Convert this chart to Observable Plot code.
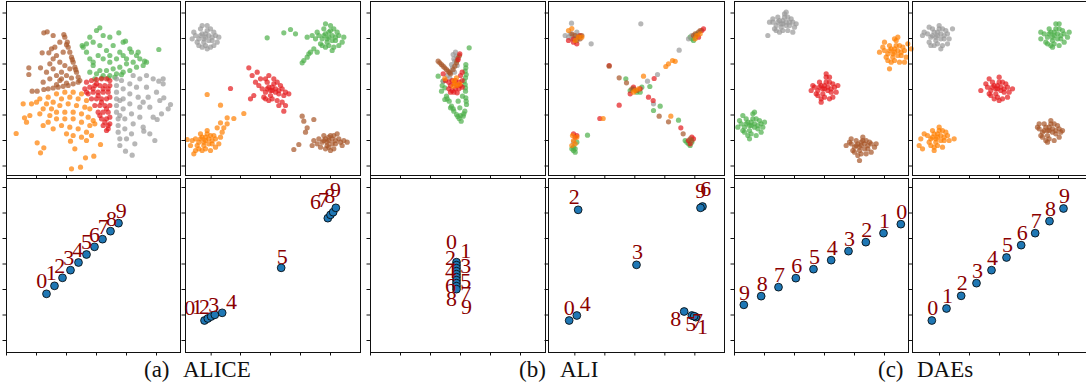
<!DOCTYPE html>
<html><head><meta charset="utf-8">
<script src="https://cdn.jsdelivr.net/npm/d3@7"></script>
<script src="https://cdn.jsdelivr.net/npm/@observablehq/plot@0.6"></script>
<style>
body{margin:0;background:#fff;}
#fig{position:relative;width:1086px;height:385px;overflow:hidden;background:#fff;}
#fig svg{position:absolute;overflow:visible;background:transparent;}
.cap{position:absolute;font-family:'Liberation Serif','Times New Roman','Nimbus Roman','DejaVu Serif',serif;font-size:23px;line-height:23px;white-space:nowrap;color:#111;}
</style></head><body><div id="fig"></div>
<script>
// ---------- classes ----------
const classNames = ["orange","green","red","brown","gray"];
const classColors = ["#ff7f00","#4daf4a","#e41a1c","#a65628","#999999"];
const digits = [0,1,2,3,4,5,6,7,8,9];

// ---------- (a) ALICE, left: latent clouds ----------
const alice1Brown = [35,83, 36.5,80, 37,77, 38,74, 39,71, 40,68, 41,65, 42,62, 43,59, 44,57, 36,78.5, 39.5,69.5, 41.5,63.5, 25,52, 28,52.5, 31,53, 34,53.5, 37,54, 40,55, 43,56, 30,54.5, 36,55.5, 30,60, 33,62, 35,66, 28,64, 32,68, 26,58, 36,60, 30,72, 34,74, 24,62, 28,70, 22,56, 38,64, 32,57, 27,76, 32,80, 22.4,85.6, 24.4,86.2, 28,84, 34.4,84.6, 21.4,73.6, 25.4,73.6, 20.4,64.6, 13.4,64.6, 13.4,60.6, 15.4,50.6, 18.4,50.6, 22.4,51.6, 29,77, 33,58, 39,58.5, 26,67];
const alice1Green = [46,77, 48,74, 50,70, 52,66, 50,62, 54,61, 58,60, 62,60, 66,61, 70,62, 74,63, 78,65, 82,66, 56,63, 60,63, 64,64, 68,65, 72,67, 76,68, 52,68, 55,72, 58,70, 62,68, 66,70, 70,72, 60,75, 64,78, 68,74, 56,78, 52,80, 58,84, 62,83, 70,80, 74,76, 78,72, 80,70, 84,68, 54,87, 56,88.6, 67.4,85.6, 71.4,80.6, 79,74, 72,70, 48,79, 50,83, 75,74, 62,72, 91.4,75.6, 82.8,68.6, 45.4,78, 53,58, 57,58.5, 61,58.5, 65,59, 69,60.5];
const alice1Red = [48,56, 51,57, 54,57.5, 57,58, 60,58, 62,57, 47,52, 50,53, 53,54, 56,54, 59,54, 62,54, 49,49, 52,50, 55,50, 58,50, 61,50, 51,46, 54,46, 57,46, 60,46, 62,47, 53,42, 56,42, 59,42, 62,42, 55,38, 58,38, 61,38, 57,34, 60,34, 62,35, 58,30, 61,30, 60,27, 61,28, 55,48, 58,52, 52,52, 48,50, 60,40, 57,44, 62,31, 54,55, 61,52, 56,36, 59,32];
const alice1Gray = [66,58, 66,54, 66,50, 66,46, 66,42, 66,38, 67,34, 67,30, 67,26, 68,22, 68,18, 69,57, 70,52, 70,46, 70,40, 71,34, 71,28, 72,22, 74,55, 74,49, 74,43, 75,37, 76,31, 75,25, 78,53, 79,47, 80,41, 80,35, 82,29, 84,53, 85,47, 86,41, 88,35, 86,25, 90,50, 92,45, 94,55, 93,37, 97,40, 98.4,42.6, 88,58, 80,58, 94,58, 89,21, 75.4,12.2, 71.4,14.6, 77,19, 82,44, 76,60, 84,60, 91.4,56.6, 94.4,46.6, 90.4,33.6, 82.4,26.6, 68,45, 68,36];
const alice1Orange = [20,46, 25,47, 30,49, 35,50, 40,50, 45,49, 18,44, 24,43, 28,44, 33,46, 38,47, 43,46, 48,45, 15,43, 22,40, 27,40, 32,42, 37,43, 42,42, 47,41, 50,40, 20,37, 26,36, 30,38, 35,38, 40,38, 45,37, 49,35, 52,33, 25,32, 30,34, 35,34, 40,34, 45,32, 50,30, 33,30, 38,29, 43,28, 48,26, 28,28, 22,30, 53,31, 45,23, 40,24, 36,25, 51,24, 12,32, 14,36, 5.8,25.2, 18.4,19.6, 20.4,13.6, 22.4,16.6, 41,16, 47.4,10.6, 48,21, 56.4,18.6, 52.4,11.6, 39,4, 44.4,5, 10,43, 10.8,34.6, 38.4,20.6];

// ---------- (a) ALICE, right ----------
const alice2Gray = [12,83, 10,85, 14,84, 8,82, 16,81, 11,80, 13,87, 9,88, 15,88, 6,84, 18,84, 12,78, 10,77, 15,77, 7,80, 17,86, 13,90, 5,86, 19,80, 11,82, 14,81, 9,84, 16,83, 12,85, 8,78, 20,83, 4,82, 10,90, 17,78, 13,76];
const alice2Green = [86,83, 84,85, 88,84, 82,82, 90,81, 85,80, 87,87, 83,88, 89,88, 80,84, 92,84, 86,78, 84,77, 89,77, 81,79, 91,86, 87,90, 79,86, 94,80, 85,82, 88,81, 83,84, 90,83, 86,86, 82,78, 95,83, 78,82, 84,91, 92,78, 88,75, 77,76, 75,74, 73,71, 71,69, 70,67.6, 74,73, 79,74, 73,83, 66,85, 63,87.6, 59,85.6, 49,82.6, 76,84];
const alice2Red = [52,51, 50,53, 54,52, 48,50, 56,49, 51,48, 53,55, 49,56, 55,56, 46,52, 58,52, 52,46, 50,45, 55,45, 47,47, 57,54, 53,58, 44,54, 59,48, 51,51, 54,50, 49,52, 56,51, 52,53, 48,46, 60,50, 42,56, 40,60, 38,64.6, 43,62, 45,58, 58,44, 60,42, 59,38.6, 56,42, 62,49, 27,52.2, 39,46, 41,48, 50,60, 48,58];
const alice2Orange = [12,21, 10,23, 14,22, 8,20, 16,19, 11,18, 13,25, 9,25, 15,24, 6,22, 18,22, 12,16, 10,15, 15,15, 7,18, 17,24, 13,27, 4,21, 20,19, 11,20, 14,19, 9,22, 16,21, 12,23, 8,16, 21,23, 3,18, 5,13, 1,21.6, 22,26, 19,28.6, 23,28.6, 25,31, 21,31.6, 25,34.6, 29,34.2, 21,42.2, 13,48.6, 35,37.2, 18,17, 6,15];
const alice2Brown = [86,21, 84,22, 88,22, 82,20, 90,19, 85,18, 87,24, 83,24, 89,24, 80,22, 92,22, 86,17, 84,16, 89,16, 79,19, 93,20, 95,21, 77,21, 91,25, 97,20, 85,20, 88,19, 83,21, 90,21, 86,23, 81,17, 94,18, 76,18, 87,15, 70,35.6, 71,32.6, 77,33.6, 73,28.6, 68,18.6, 65,15.6, 72,26];

// ---------- (b) ALI, left ----------
const ali1Green = [44.6,52.6, 45.6,47.6, 47.2,44.6, 48.6,41.6, 50,38.6, 51.6,36.6, 53.2,34.2, 54.4,32.6, 57.2,66.6, 56.8,62.6, 57,58.6, 56.8,54.6, 57,50.6, 57.2,46.6, 57.6,42.6, 56.6,38.6, 55.6,35.6, 43.6,56.6, 42.6,50.6, 44.6,45.6, 52.6,44.6, 53.6,40.6, 59.2,76.6, 40.6,59.6, 55.2,47.6, 48,40.6, 57.4,60.6, 57,52.6, 57.4,44.6, 54,36, 46,46, 49.6,40, 52.4,35.4, 56,37, 43,54, 57.2,64.6, 56.2,56.6];
const ali1Red = [47,52, 49,51, 51,52, 53,52, 48,54, 50,55, 52,54, 54,54, 47,56, 49,57, 51,57, 53,56, 55,57, 50,50, 52,49.6, 48,50, 53.6,73, 52.6,69.6, 43.6,61, 54,60, 55,62, 45,57, 55,53];
const ali1Orange = [50.6,55.6, 49.6,53.6, 51.6,58.6, 44.6,58.2, 52,54, 53.6,55, 50,57];
const ali1Brown = [40.6,68.6, 42.6,66.6, 44.6,64.6, 46.6,62.6, 48,61, 49.6,63.6, 51.6,67.6, 52.6,70.6, 41.6,67.6, 43.6,65.6, 45.6,63.6, 47.4,61.8, 50.6,65.6, 52,69, 53.4,72];
const ali1Gray = [49.6,72.6, 50.6,68.6, 49.2,64.6, 47.6,58.6, 43.6,56.6, 51.6,71.6, 48.6,66.6, 50,70, 51,74, 48,62, 46,60, 52,66, 50.4,62];

// ---------- (b) ALI, right ----------
const ali2Gray = [13,85, 15,84, 17,86, 12,83, 14,82, 18,84, 13.8,91.4, 25.6,79, 10,84, 16,82, 55.4,91, 59.4,56.6, 65.4,60.6, 78.4,75.2, 63,43, 86,84, 84,82, 15,20];
const ali2Brown = [16,84, 18,83, 14,85, 19,82, 17,81, 20,84, 88,85, 90,86, 87,84, 91,87, 42.4,58.6, 46.8,55.6, 50,52, 53,51, 66.4,35.6, 72,32.2, 80.8,25, 85,22, 86,21, 36.4,65.6];
const ali2Orange = [14,88.2, 12,87, 18,83, 16,81, 20,83, 89,84, 91,85, 88,82, 57,59.6, 70.4,65.4, 72,67, 74.4,69, 76,68.5, 52,51, 54,52, 51,50, 73.4,35.6, 32.8,34.2, 14.4,24, 15,21, 16,19, 17,23, 14,18];
const ali2Red = [15,80, 17,79, 19,84, 12,81, 92,87, 93,88, 90,83, 36.4,66, 63.4,58.2, 60,47, 62.8,45, 79.4,28.6, 42.4,42.2, 30.8,34.2, 49,49, 55,52, 51,53, 16,23, 17,24, 15,25, 84,21, 87,22, 85,19, 86,23, 15,82];
const ali2Green = [86,82, 87,81, 85,83, 88,83, 89,85, 51,52, 53,50, 55,50, 49,51, 56,53, 46.4,58, 60.8,53.4, 63,39, 67,41.6, 78,33.2, 23.4,24.2, 15,17, 16,16, 14,16, 17,20, 15,15, 83,20, 84,19, 82,21, 86,20, 85,18, 16,14];

// ---------- (c) DAEs, left ----------
const dae1Gray = [29,91, 27,93, 31,92, 25,90, 33,90, 28,89, 30,95, 26,95, 32,95, 23,92, 35,92, 29,87, 27,86, 32,87, 24,88, 34,94, 30,97, 21,92, 36,89, 28,91, 31,90, 26,92, 33,92, 29,93, 25,87, 37,91, 20,84, 31,98, 35,86, 23,94];
const dae1Orange = [96,74, 94,76, 98,75, 92,73, 100,72, 95,71, 97,78, 93,78, 99,78, 90,75, 102,75, 96,69, 94,68, 99,68, 91,71, 101,77, 97,81, 89,77, 103,71, 95,73, 98,72, 93,75, 100,74, 96,76, 92,69, 104,79, 87,74, 98,83, 102,68, 93,64, 96,82, 106,76, 90,80];
const dae1Red = [54,52, 52,54, 56,53, 50,51, 58,50, 53,49, 55,56, 51,56, 57,56, 48,53, 60,53, 54,47, 52,46, 57,46, 49,49, 59,55, 55,59, 47,54, 61,50, 53,52, 56,51, 51,53, 58,52, 54,54, 50,48, 62,54, 46,51, 55,61, 59,47, 52,44, 57,59];
const dae1Green = [10,30, 8,32, 12,31, 6,29, 14,28, 9,27, 11,34, 7,34, 13,34, 4,31, 16,31, 10,25, 8,24, 13,24, 5,27, 15,33, 11,37, 3,33, 17,29, 9,30, 12,29, 7,31, 14,30, 10,32, 6,26, 18,32, 2,29, 9,22, 16,26, 12,38, 5,36];
const dae1Brown = [76,18, 74,19, 78,19, 72,17, 80,16, 75,15, 77,21, 73,21, 79,21, 70,19, 82,19, 76,13, 74,12, 79,13, 71,15, 81,20, 77,23, 69,20, 84,17, 75,17, 78,16, 73,18, 80,18, 76,20, 72,14, 85,19, 67,18, 75,9, 82,14, 70,22];

// ---------- (c) DAEs, right ----------
const dae2Gray = [15,84, 13,86, 17,85, 11,83, 19,82, 14,81, 16,88, 12,88, 18,88, 9,85, 21,85, 15,79, 13,78, 18,78, 10,80, 20,87, 16,90, 7,86, 22,82, 14,83, 17,82, 12,84, 19,84, 15,86, 11,78, 24,88, 6,84, 17,76, 21,79, 10,89];
const dae2Green = [85,84, 83,86, 87,85, 81,83, 89,82, 84,81, 86,88, 82,88, 88,88, 79,85, 91,85, 85,79, 83,78, 88,78, 80,80, 90,87, 86,91, 77,86, 93,83, 84,83, 87,82, 82,85, 89,84, 85,86, 81,79, 94,86, 77,82, 84,77, 91,80, 88,91];
const dae2Red = [51,52, 49,54, 53,53, 47,51, 55,50, 50,49, 52,56, 48,56, 54,56, 45,53, 57,53, 51,47, 49,46, 54,46, 46,49, 56,55, 52,59, 44,55, 58,50, 50,52, 53,51, 48,53, 55,52, 51,54, 47,48, 60,52, 41,51, 52,45, 57,47, 46,58];
const dae2Orange = [15,23, 13,25, 17,24, 11,22, 19,21, 14,20, 16,27, 12,27, 18,27, 9,24, 21,24, 15,18, 13,17, 18,17, 10,20, 20,26, 16,29, 7,25, 22,21, 14,22, 17,21, 12,23, 19,23, 15,25, 11,18, 25,22, 5,22, 4,18, 6,16, 13,15];
const dae2Brown = [82,27, 80,29, 84,28, 78,26, 86,25, 81,24, 83,31, 79,31, 85,31, 76,28, 88,28, 82,22, 80,21, 85,21, 77,24, 87,30, 83,33, 75,29, 89,26, 81,27, 84,26, 79,27, 86,27, 82,29, 78,23, 90,27, 81,20, 88,23, 76,31];

// ---------- bottom row: class means (digits 0..9) ----------
const alice1X = [24, 28.8, 33.6, 38.4, 43.2, 48, 52.8, 57.6, 62.4, 67.2];
const alice1Y = [35.2, 40, 44.8, 49.4, 54, 58.8, 63.4, 68, 72.8, 77.6];
const alice1LX = [21.2, 26.8, 32, 37.4, 42.8, 48, 52.8, 58, 63, 68.8];
const alice1LY = [42.8, 47.6, 52, 56.8, 61.4, 66.2, 70.8, 75.6, 80.4, 85.2];

const alice2X = [11.4, 13.4, 15.4, 17.6, 22, 57.4, 85.4, 87, 88.6, 90.2];
const alice2Y = [19.2, 20.4, 21.6, 22.6, 23.8, 50.8, 80.6, 82.6, 84.2, 86.8];
const alice2LX = [2.6, 7, 11.4, 17, 27.6, 58, 78, 82.6, 86.6, 90];
const alice2LY = [26.8, 27.2, 27.6, 28.6, 30.6, 57.6, 90.2, 91.6, 94.2, 97.6];

const ali1X = [51.6, 51.6, 51.6, 51.6, 51.6, 51.6, 51.6, 51.6, 51.6, 51.6];
const ali1Y = [54.2, 52.4, 50.6, 48.8, 47, 45.2, 43.4, 41.6, 39.8, 38];
const ali1LX = [48.6, 57.2, 48, 57.2, 48, 57.2, 48, 57.2, 48.6, 57.6];
const ali1LY = [66.2, 61.2, 56.8, 52.2, 49.2, 43.2, 40.2, 35.2, 32.2, 27.2];

const ali2X = [12.4, 88.4, 17.8, 52.8, 17, 86, 92.4, 87.4, 81.4, 91.2];
const ali2Y = [19.2, 21.2, 85.6, 52.6, 22.2, 22.2, 87.6, 21.8, 24.6, 86.8];
const ali2LX = [12.4, 92.4, 15.4, 53.4, 22, 85.4, 94.4, 89.4, 76.4, 91.4];
const ali2LY = [26.8, 15.6, 93.2, 60.2, 29.2, 17.2, 98.2, 19.2, 20.2, 97.2];

const dae1X = [99.8, 89.4, 78.8, 68.4, 58, 47.4, 36.8, 26.4, 16, 5.6];
const dae1Y = [77, 71.6, 66.2, 60.8, 55.4, 50, 44.6, 39.2, 33.8, 28.6];
const dae1LX = [100.4, 90, 79.4, 69, 58.6, 48, 37.4, 27, 16.6, 6];
const dae1LY = [84.2, 78.8, 73.4, 68, 62.6, 57.2, 51.8, 46.4, 41, 35.8];

const dae2X = [11.6, 20.4, 29.2, 38.4, 47.4, 56.4, 65.2, 73.6, 82.2, 90.6];
const dae2Y = [19.2, 26.4, 34, 41.6, 49.4, 57, 64.4, 71.6, 78.8, 86.4];
const dae2LX = [12.2, 21, 29.8, 39, 48, 57, 65.8, 74.2, 82.8, 91.2];
const dae2LY = [26.8, 34, 41.6, 49.2, 57, 64.6, 72, 79.2, 86.4, 94];

// ---------- ticks ----------
const xTicksOdd = [0, 18, 36, 54, 72, 90];
const xTicksP2 = [15.4, 33, 51, 69, 87];
const xTicksP4 = [15.8, 33.8, 51.8, 69.8, 87.8];
const xTicksP6 = [16.2, 34.2, 52.2, 70.2, 87.6];
const yTicksTop = [5.7, 21, 36.3, 51.6, 66.9, 82.2, 97.5];
const yTicksBottom = [7.2, 22.5, 37.8, 53.1, 68.4, 83.7, 99];

// ---------- captions ----------
const captionTags = ["(a)", "(b)", "(c)"];
const captionNames = ["ALICE", "ALI", "DAEs"];

// ================= drawing =================
const fig = document.getElementById("fig");
const serif = "'Liberation Serif', 'Times New Roman', 'Nimbus Roman', 'DejaVu Serif', serif";
const panelLeft = [6, 185, 369.5, 548, 734, 912];
const panelWidth = [174, 175, 175, 176, 174, 175];
const rowTop = [0.5, 178];
const rowHeight = 174;
const mL = 5, mR = 1, mT = 1, mB = 5;
const colorOf = Object.fromEntries(classNames.map((c, i) => [c, classColors[i]]));

function cloud(groups) {
  const out = [];
  for (const [c, arr] of groups) for (let i = 0; i + 1 < arr.length; i += 2) out.push({x: arr[i], y: arr[i + 1], c, col: colorOf[c]});
  return out;
}
function means(X, Y, LX, LY) {
  return digits.map((d, i) => ({d: String(d), x: X[i], y: Y[i], lx: LX[i], ly: LY[i]}));
}

function panel(col, row, xTicks, yTicks, marks) {
  const fw = panelWidth[col], fh = rowHeight;
  const svg = Plot.plot({
    width: fw + mL + mR,
    height: fh + mT + mB,
    marginLeft: mL, marginRight: mR, marginTop: mT, marginBottom: mB,
    style: {background: "transparent", overflow: "visible"},
    x: {domain: [0, fw * 0.6], label: null},
    y: {domain: [0, fh * 0.6], label: null},
    marks: [
      ...marks,
      Plot.frame({stroke: "#111", strokeWidth: 1}),
      Plot.axisX(xTicks, {tickSize: 3.5, tickFormat: () => "", stroke: "#111", label: null}),
      Plot.axisY(yTicks, {tickSize: 3.5, tickFormat: () => "", stroke: "#111", label: null})
    ]
  });
  svg.style.left = (panelLeft[col] - mL) + "px";
  svg.style.top = (rowTop[row] - mT) + "px";
  fig.appendChild(svg);
}

function cloudMarks(data) {
  return [Plot.dot(data, {x: "x", y: "y", fill: d => d.col, r: 2.6, fillOpacity: 0.7, stroke: null})];
}
function meanMarks(data) {
  return [
    Plot.dot(data, {x: "x", y: "y", r: 3.9, fill: "#1f77b4", stroke: "#000", strokeWidth: 0.8}),
    Plot.text(data, {x: "lx", y: "ly", text: "d", fill: "#8b0000", fontSize: 22, fontFamily: serif})
  ];
}

const tops = [
  cloud([["orange", alice1Orange], ["brown", alice1Brown], ["green", alice1Green], ["gray", alice1Gray], ["red", alice1Red]]),
  cloud([["gray", alice2Gray], ["green", alice2Green], ["red", alice2Red], ["orange", alice2Orange], ["brown", alice2Brown]]),
  cloud([["green", ali1Green], ["gray", ali1Gray], ["brown", ali1Brown], ["red", ali1Red], ["orange", ali1Orange]]),
  cloud([["green", ali2Green], ["gray", ali2Gray], ["red", ali2Red], ["brown", ali2Brown], ["orange", ali2Orange]]),
  cloud([["gray", dae1Gray], ["orange", dae1Orange], ["red", dae1Red], ["green", dae1Green], ["brown", dae1Brown]]),
  cloud([["gray", dae2Gray], ["green", dae2Green], ["red", dae2Red], ["orange", dae2Orange], ["brown", dae2Brown]])
];
const bottoms = [
  means(alice1X, alice1Y, alice1LX, alice1LY),
  means(alice2X, alice2Y, alice2LX, alice2LY),
  means(ali1X, ali1Y, ali1LX, ali1LY),
  means(ali2X, ali2Y, ali2LX, ali2LY),
  means(dae1X, dae1Y, dae1LX, dae1LY),
  means(dae2X, dae2Y, dae2LX, dae2LY)
];
const xTicksByCol = [xTicksOdd, xTicksP2, xTicksOdd, xTicksP4, xTicksOdd, xTicksP6];

for (let c = 0; c < 6; c++) {
  panel(c, 0, xTicksByCol[c], yTicksTop, cloudMarks(tops[c]));
  panel(c, 1, xTicksByCol[c], yTicksBottom, meanMarks(bottoms[c]));
}

// captions (HTML text)
const tagLeft = [144, 519, 878];
const nameLeft = [183, 560, 917];
for (let i = 0; i < 3; i++) {
  const t = document.createElement("div");
  t.className = "cap"; t.textContent = captionTags[i];
  t.style.left = tagLeft[i] + "px"; t.style.top = "357.5px";
  fig.appendChild(t);
  const n = document.createElement("div");
  n.className = "cap"; n.textContent = captionNames[i];
  n.style.left = nameLeft[i] + "px"; n.style.top = "357.5px";
  fig.appendChild(n);
}
</script>
</body></html>
